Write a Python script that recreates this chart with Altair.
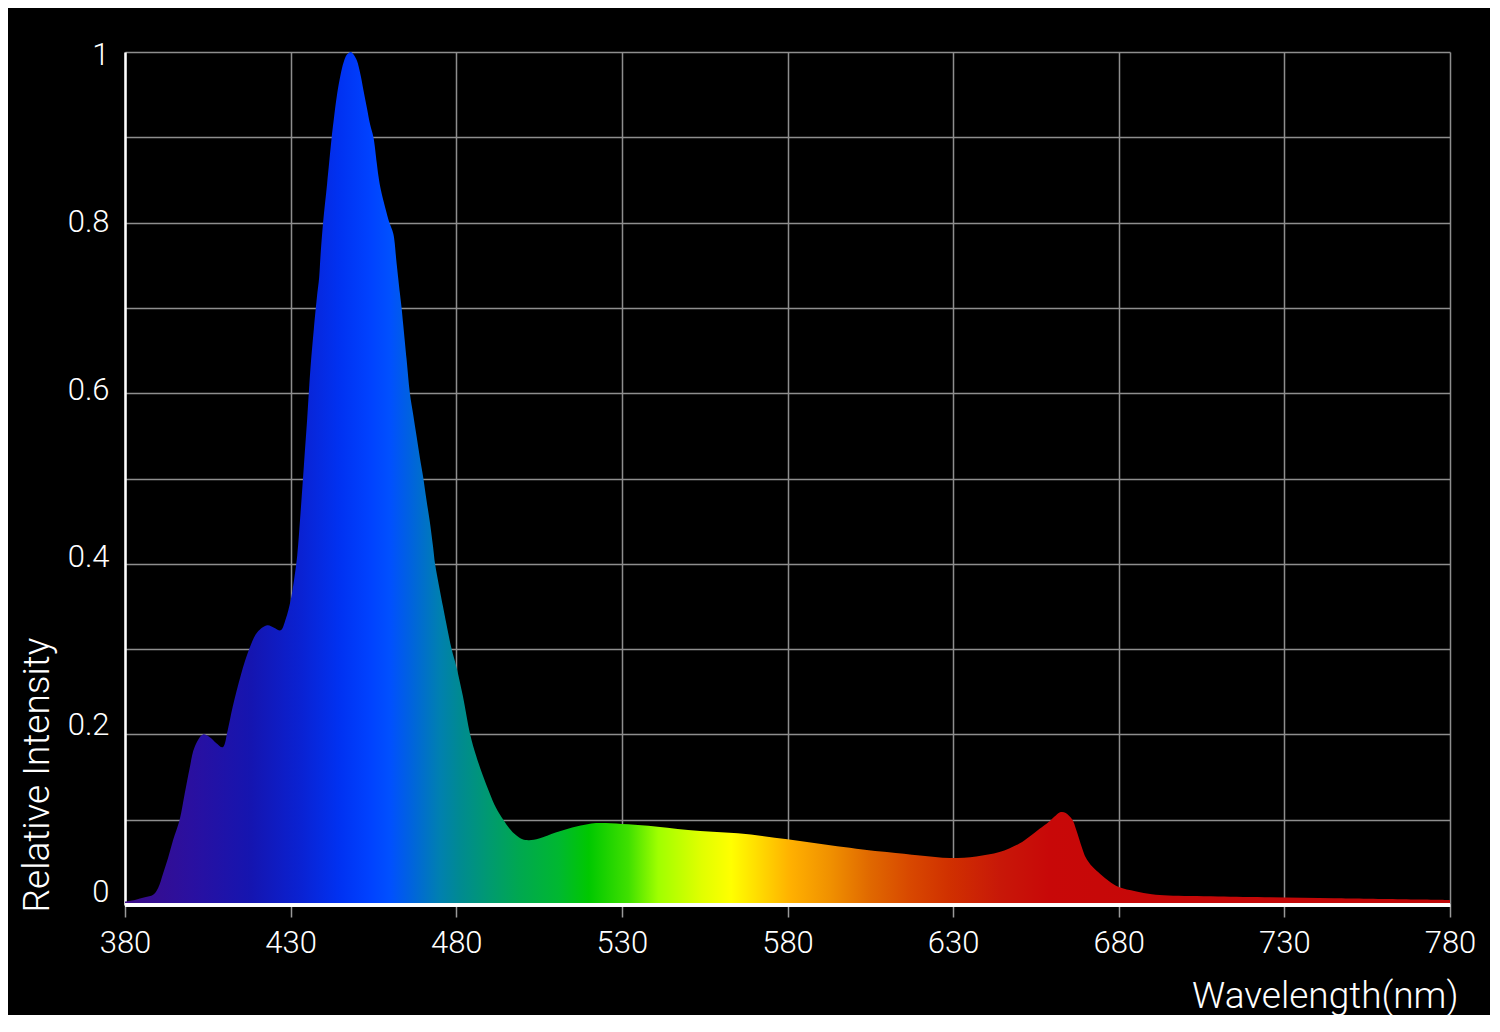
import altair as alt
import pandas as pd

# ---- data ----
wavelength = [380, 383, 386, 388.5, 390, 391.5, 393, 394.5, 396.5, 398, 399.5, 401,
              403.5, 405.5, 407.5, 409.5, 411, 412.5, 415, 417.5, 420, 423, 425, 427,
              428.5, 430, 431, 432, 433, 434, 435, 436, 437, 438, 438.6, 439, 439.8,
              441, 442.4, 443, 444, 445, 446, 447, 448.2, 449, 450, 451, 452, 453, 454,
              455, 456, 456.5, 457, 458, 459, 459.8, 461, 462, 463, 463.5, 464, 465,
              466, 467, 468, 469, 470, 471, 472, 473, 473.6, 475, 476, 477, 478.6, 480,
              482, 484.2, 486, 488, 490, 492, 494.2, 496, 498, 500, 502, 505, 510, 515,
              520, 523, 530, 538, 550, 565, 580, 595, 610, 620, 629, 637, 644, 650, 653,
              656, 659, 661, 662.5, 664, 666, 667, 668, 669, 670, 672, 674.5, 677, 680,
              685, 690, 695, 710, 745, 780]
intensity = [0.004, 0.006, 0.009, 0.012, 0.02, 0.037, 0.055, 0.076, 0.1, 0.13, 0.16, 0.185,
             0.2, 0.197, 0.19, 0.185, 0.205, 0.232, 0.27, 0.3, 0.32, 0.328, 0.325, 0.322,
             0.335, 0.357, 0.38, 0.41, 0.46, 0.515, 0.57, 0.63, 0.675, 0.715, 0.735, 0.76, 0.8,
             0.845, 0.9, 0.92, 0.95, 0.972, 0.988, 0.997, 1.0, 0.997, 0.99, 0.975, 0.955, 0.935, 0.915,
             0.9, 0.87, 0.855, 0.843, 0.826, 0.811, 0.8, 0.787, 0.752, 0.717, 0.7, 0.68, 0.64,
             0.6, 0.575, 0.55, 0.525, 0.502, 0.475, 0.45, 0.42, 0.4, 0.37, 0.35, 0.33, 0.3, 0.28,
             0.245, 0.2, 0.175, 0.152, 0.132, 0.114, 0.1, 0.09, 0.082, 0.077, 0.076, 0.078, 0.085, 0.091,
             0.095, 0.096, 0.095, 0.093, 0.088, 0.084, 0.077, 0.069, 0.062, 0.058, 0.055, 0.057, 0.062, 0.072, 0.08,
             0.089, 0.098, 0.105, 0.109, 0.108, 0.1, 0.09, 0.078, 0.066, 0.056, 0.045, 0.036, 0.028, 0.021,
             0.016, 0.0125, 0.011, 0.01, 0.008, 0.006]

# spectral colour stops (wavelength, colour) for the fill
stop_nm = [380, 400, 418, 433, 445, 454, 460, 466, 475, 481, 490, 499, 511, 520, 532,
           541, 554, 563, 572, 581, 593, 605, 617, 629, 644, 659, 780]
stop_colors = ["#3c0c88", "#2a10a0", "#1515b0", "#0a22d2", "#0032f2", "#0042ff", "#0050ff",
               "#0062e0", "#0080b0", "#008a92", "#009a70", "#00a850", "#00b830", "#00c800",
               "#40e000", "#a0ff00", "#e0ff00", "#ffff00", "#ffd800", "#ffb000", "#f09000",
               "#e06800", "#d84800", "#d03000", "#c81808", "#c80808", "#c00808"]

x_ticks = [380, 430, 480, 530, 580, 630, 680, 730, 780]
y_grid = [0, 0.1, 0.2, 0.3, 0.4, 0.5, 0.6, 0.7, 0.8, 0.9, 1]
y_labels = [0, 0.2, 0.4, 0.6, 0.8, 1]

df = pd.DataFrame({"wl": wavelength, "val": intensity})

x_min, x_max = x_ticks[0], x_ticks[-1]
gradient = {
    "gradient": "linear", "x1": 0, "y1": 0, "x2": 1, "y2": 0,
    "stops": [{"offset": (n - x_min) / (x_max - x_min), "color": c}
              for n, c in zip(stop_nm, stop_colors)],
}

FONT = "Roboto"
WEIGHT = 300
label_list = ",".join(str(v) for v in y_labels)

x_enc = alt.X("wl:Q",
              scale=alt.Scale(domain=[x_min, x_max], nice=False, zero=False),
              axis=alt.Axis(values=x_ticks, format="d", grid=True,
                            gridColor="#8e8e8e", gridWidth=1.5,
                            domainColor="#ffffff", domainWidth=2.5,
                            ticks=True, tickColor="#9a9a9a", tickSize=12, tickWidth=1.5,
                            labelColor="#ffffff", labelFont=FONT, labelFontSize=31,
                            labelFontWeight=WEIGHT, labelFlush=False,
                            labelPadding=11,
                            title="Wavelength(nm)", titleColor="#ffffff",
                            titleFont=FONT, titleFontSize=37, titleFontWeight=WEIGHT,
                            titleAlign="right", titleBaseline="alphabetic",
                            titleX=1333, titleY=102, titleAngle=0))
y_enc = alt.Y("val:Q",
              scale=alt.Scale(domain=[0, 1], nice=False),
              axis=alt.Axis(values=y_grid, grid=True,
                            gridColor="#8e8e8e", gridWidth=1.5,
                            domainColor="#ffffff", domainWidth=2.5,
                            ticks=False, labelPadding=16,
                            labelExpr=f"indexof([{label_list}], datum.value) >= 0 ? format(datum.value, '~g') : ''",
                            labelColor="#ffffff", labelFont=FONT, labelFontSize=31,
                            labelFontWeight=WEIGHT,
                            labelBaseline="middle",
                            labelOffset={"condition": {"test": "datum.value > 5", "value": 0},
                                         "expr": "15.5*datum.value - 12.3"},
                            title="Relative Intensity", titleColor="#ffffff",
                            titleFont=FONT, titleFontSize=37, titleFontWeight=WEIGHT,
                            titleAngle=270, titleAlign="left", titleBaseline="alphabetic",
                            titleX=-77, titleY=860))

area = alt.Chart(df).mark_area(interpolate="catmull-rom", color=gradient).encode(x=x_enc, y=y_enc)

base_rule = alt.Chart(df).mark_rule(color="#ffffff", strokeWidth=2.5).encode(
    y=alt.datum(0, scale=alt.Scale(domain=[0, 1], nice=False))
)

chart = alt.layer(area, base_rule).properties(
    width=1325, height=853,
    autosize=alt.AutoSizeParams(type="none"),
    padding={"left": 117, "top": 44, "right": 40, "bottom": 110},
).configure(background="#000000").configure_view(stroke=None)

chart.save("out.html", embed_options={"renderer": "svg", "actions": False})
